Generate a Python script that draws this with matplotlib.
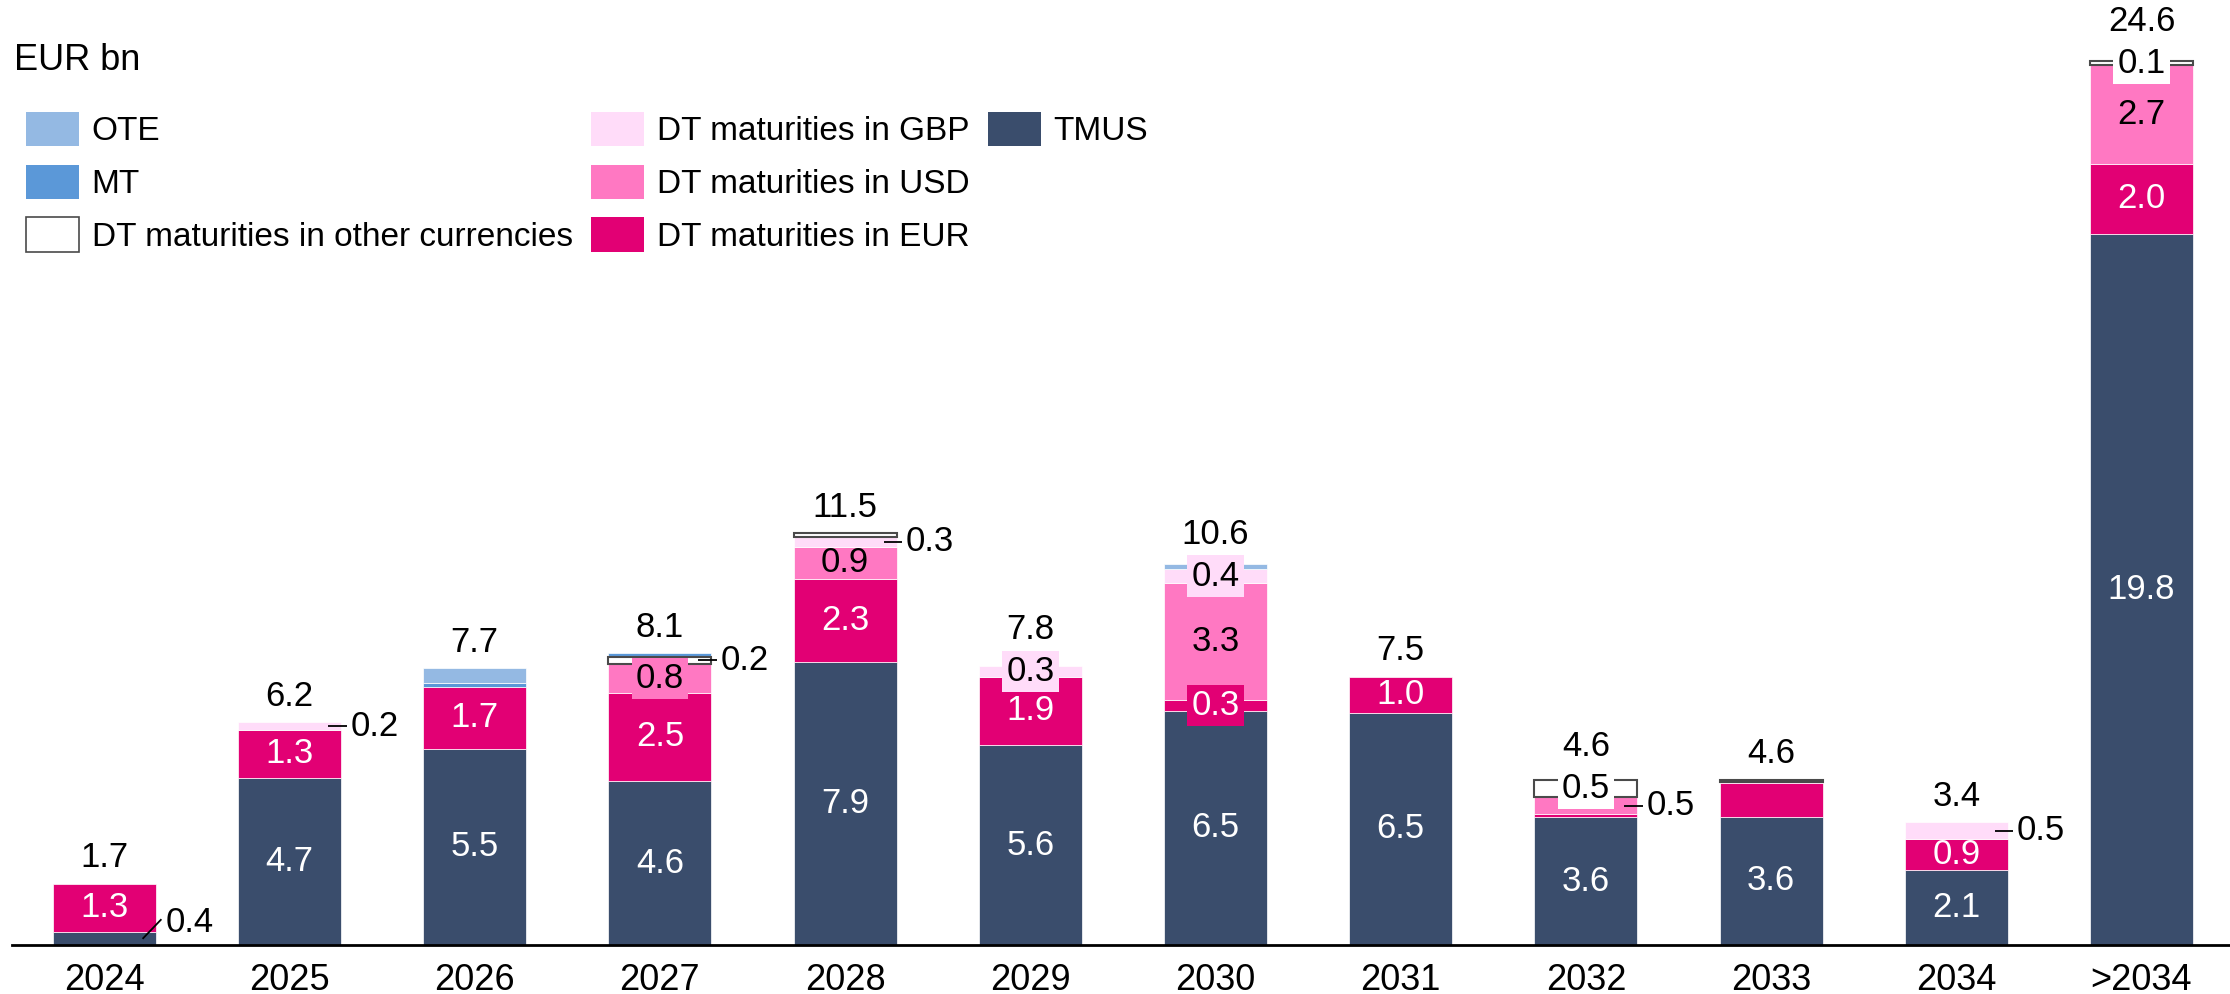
import matplotlib
matplotlib.use("Agg")
import matplotlib.pyplot as plt
from matplotlib.patches import Patch
import numpy as np

plt.rcParams['font.family'] = ['Liberation Sans', 'DejaVu Sans']

# ---------------- data ----------------
years = ['2024', '2025', '2026', '2027', '2028', '2029', '2030', '2031', '2032', '2033', '2034', '>2034']
tmus     = [0.37, 4.66, 5.47, 4.56, 7.89, 5.57, 6.52, 6.47, 3.56, 3.57, 2.09, 19.80]
dt_eur   = [1.33, 1.33, 1.73, 2.47, 2.31, 1.90, 0.30, 1.00, 0.08, 0.93, 0.86, 1.96]
dt_usd   = [0.00, 0.00, 0.00, 0.80, 0.89, 0.00, 3.27, 0.00, 0.47, 0.03, 0.00, 2.74]
dt_gbp   = [0.00, 0.21, 0.00, 0.00, 0.28, 0.30, 0.37, 0.00, 0.00, 0.00, 0.47, 0.00]
dt_other = [0.00, 0.00, 0.00, 0.20, 0.10, 0.00, 0.00, 0.00, 0.49, 0.07, 0.00, 0.12]
mt       = [0.00, 0.00, 0.11, 0.09, 0.00, 0.00, 0.00, 0.00, 0.00, 0.00, 0.00, 0.00]
ote      = [0.00, 0.00, 0.40, 0.00, 0.00, 0.00, 0.15, 0.00, 0.00, 0.00, 0.00, 0.00]

series_names = ['TMUS', 'DT maturities in EUR', 'DT maturities in USD', 'DT maturities in GBP',
                'DT maturities in other currencies', 'MT', 'OTE']
series_vals = [tmus, dt_eur, dt_usd, dt_gbp, dt_other, mt, ote]
colors = ['#3a4d6c', '#e20074', '#ff78c2', '#ffdcf9', '#ffffff', '#5b98d8', '#94b9e3']
text_colors = ['white', 'white', 'black', 'black', 'black', 'black', 'black']

# label placement per series index -> mode -> year indices
label_modes = {
    0: {'in': [1, 2, 3, 4, 5, 6, 7, 8, 9, 10, 11], 'slant': [0]},
    1: {'in': [0, 1, 2, 3, 4, 5, 7, 10, 11], 'box': [6]},
    2: {'in': [4, 6, 11], 'box': [3], 'right': [8]},
    3: {'box': [5, 6], 'right': [1, 4, 10]},
    4: {'box': [8, 11], 'right': [3]},
}

# ---------------- figure ----------------
W, H = 2230, 994
fig = plt.figure(figsize=(W / 100, H / 100), dpi=100)
ax_left, ax_right = 12, 2230
ax_bottom = 945
ax = fig.add_axes([ax_left / W, 1 - ax_bottom / H, (ax_right - ax_left) / W, ax_bottom / H])

px_per_unit_x = 185.2
px_per_unit_y = 35.9
x0_px = 104.3
xlim_lo = -(x0_px - ax_left) / px_per_unit_x
xlim_hi = xlim_lo + (ax_right - ax_left) / px_per_unit_x
ax.set_xlim(xlim_lo, xlim_hi)
ax.set_ylim(0, ax_bottom / px_per_unit_y)

x = np.arange(len(years))
width = 0.556
FS = 25
box_half = 20 / px_per_unit_y

bottom = np.zeros(len(years))
label_top = np.zeros(len(years))
for si, (name, vals) in enumerate(zip(series_names, series_vals)):
    vals = np.array(vals)
    mask = vals > 0
    if si == 4:
        ax.bar(x[mask], vals[mask], width, bottom=bottom[mask], color=colors[si],
               edgecolor='#4a4a4a', linewidth=1.5, zorder=3)
    else:
        ax.bar(x[mask], vals[mask], width, bottom=bottom[mask], color=colors[si],
               edgecolor='white', linewidth=0.5, zorder=2)
    modes = label_modes.get(si, {})
    for mode, idxs in modes.items():
        for i in idxs:
            b = bottom[i]
            h = vals[i]
            yc = b + h / 2
            txt = f'{h:.1f}'
            if mode == 'in':
                ax.text(x[i], yc, txt, ha='center', va='center', fontsize=FS,
                        color=text_colors[si], zorder=5)
            elif mode == 'box':
                ax.text(x[i], yc, txt, ha='center', va='center', fontsize=FS,
                        color=text_colors[si], zorder=5,
                        bbox=dict(boxstyle='square,pad=0.12', fc=colors[si], ec='none'))
                label_top[i] = max(label_top[i], yc + box_half)
            elif mode == 'right':
                xr = x[i] + width / 2
                ax.plot([xr - 0.07, xr + 0.03], [yc, yc], color='black', lw=1.3, zorder=6,
                        solid_capstyle='butt')
                ax.text(xr + 0.05, yc, txt, ha='left', va='center', fontsize=FS,
                        color='black', zorder=6)
            elif mode == 'slant':
                ax.plot([x[i] + 0.21, x[i] + 0.305], [0.19, 0.70], color='black', lw=1.3, zorder=6)
                ax.text(x[i] + 0.33, 0.64, txt, ha='left', va='center', fontsize=FS,
                        color='black', zorder=6)
    bottom = bottom + vals

# totals
for i, tot in enumerate(bottom):
    ty = max(tot + 26 / px_per_unit_y, label_top[i] + 22 / px_per_unit_y)
    ax.text(x[i], ty, f'{tot:.1f}', ha='center', va='center', fontsize=FS,
            color='black', zorder=6)

# axes styling
for s in ['top', 'right', 'left']:
    ax.spines[s].set_visible(False)
ax.spines['bottom'].set_color('black')
ax.spines['bottom'].set_linewidth(2)
ax.spines['bottom'].set_zorder(7)
ax.set_yticks([])
ax.set_xticks(x, years)
ax.tick_params(axis='x', length=0, labelsize=26, pad=13)

# title
fig.text(14 / W, 1 - 60 / H, 'EUR bn', ha='left', va='center', fontsize=26)

# legend (3 rows, column-major: OTE/MT/other | GBP/USD/EUR | TMUS)
order = [6, 5, 4, 3, 2, 1, 0]
handles = []
for si in order:
    if si == 4:
        handles.append(Patch(facecolor='white', edgecolor='#4a4a4a', linewidth=1.2))
    else:
        handles.append(Patch(facecolor=colors[si], edgecolor='none'))
labels = [series_names[si] for si in order]
for _ in range(2):
    handles.append(Patch(facecolor='none', edgecolor='none'))
    labels.append('')
fig.legend(handles, labels, loc='upper left', bbox_to_anchor=(26 / W, 1 - 112 / H),
           ncol=3, frameon=False, fontsize=24, handlelength=1.6, handleheight=1.2,
           handletextpad=0.37, labelspacing=0.52, columnspacing=0.55,
           borderaxespad=0, borderpad=0)

fig.savefig('out.png', dpi=100)
